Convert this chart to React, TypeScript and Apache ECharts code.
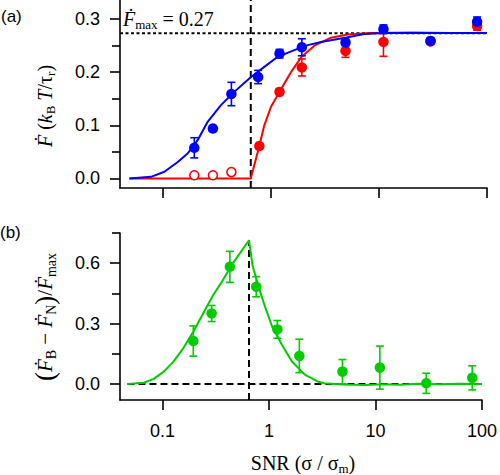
import React, { useEffect, useRef } from "react";
import * as echarts from "echarts";

// ---------- data ----------
const snr = [0.195, 0.29, 0.43, 0.76, 1.2, 1.93, 4.9, 11, 30, 81];

const blueValues = [0.0577, 0.094, 0.159, 0.191, 0.235, 0.247, 0.256, 0.281, 0.259, 0.295];
const blueErrors = [0.019, 0.005, 0.022, 0.0125, 0.008, 0.016, 0.006, 0.008, 0.005, 0.009];

const redOpenSnr = [0.195, 0.29, 0.43];
const redOpenValues = [0.006, 0.006, 0.012];

const redSnr = [0.78, 1.2, 1.93, 4.9, 11, 30, 81];
const redValues = [0.061, 0.163, 0.209, 0.24, 0.257, 0.258, 0.287];
const redErrors = [0.004, 0.005, 0.016, 0.012, 0.027, 0.005, 0.008];

const greenValues = [0.213, 0.35, 0.582, 0.483, 0.271, 0.139, 0.061, 0.081, 0.003, 0.03];
const greenErrors = [0.075, 0.04, 0.077, 0.05, 0.044, 0.083, 0.06, 0.107, 0.05, 0.06];

const blueCurveSnr = [0.0488, 0.0774, 0.103, 0.137, 0.169, 0.2095, 0.259, 0.344, 0.457, 0.653, 0.867, 1.153, 1.643, 2.19, 2.9, 5.0, 7.3, 11, 20, 40, 100];
const blueCurveValues = [0, 0.003, 0.0125, 0.031, 0.047, 0.072, 0.1066, 0.138, 0.163, 0.191, 0.21, 0.229, 0.2416, 0.251, 0.257, 0.2655, 0.2718, 0.274, 0.2745, 0.274, 0.274];

const redCurveSnr = [0.0488, 0.65, 0.78, 0.867, 1.0, 1.2, 1.53, 1.9, 2.52, 3.59, 5.13, 8.4, 20, 50, 100];
const redCurveValues = [0, 0, 0.061, 0.1, 0.135, 0.163, 0.2, 0.228, 0.25, 0.265, 0.271, 0.274, 0.2745, 0.274, 0.274];

const greenCurveSnr = [0.0471, 0.0671, 0.083, 0.103, 0.127, 0.157, 0.195, 0.241, 0.299, 0.37, 0.457, 0.65, 0.701, 0.808, 0.931, 1.074, 1.328, 1.643, 2.19, 2.9, 3.3, 5, 8, 12, 17, 25, 40, 60, 100];
const greenCurveValues = [0, 0.006, 0.025, 0.061, 0.111, 0.177, 0.259, 0.35, 0.441, 0.516, 0.598, 0.714, 0.59, 0.475, 0.375, 0.284, 0.193, 0.111, 0.045, 0.011, 0.003, -0.003, -0.006, -0.002, -0.004, 0.001, -0.002, 0.001, 0];

const fmax = 0.2736;
const threshold = 0.65;
const greenPeak = 0.714;

const xMin = 0.04;
const xMax = 100;
const topYMin = -0.018;
const topYMax = 0.336;
const botYMin = -0.08;
const botYMax = 0.75;

const xTickValues = [0.1, 1, 10, 100];
const xTickLabels = ["0.1", "1", "10", "100"];
const topMajor = [0, 0.1, 0.2, 0.3];
const topMinor = [0.05, 0.15, 0.25];
const botMajor = [0, 0.3, 0.6];
const botMinor = [0.15, 0.45, 0.75];

// ---------- styling ----------
const BLUE = "#0000ff";
const RED = "#ff0000";
const GREEN = "#00cc00";
const SANS = "'Liberation Sans', Arial, Helvetica, sans-serif";
const SERIF = "'Liberation Serif', 'DejaVu Serif', 'Times New Roman', serif";

const pairs = (xs: number[], ys: number[]) => xs.map((x, i) => [x, ys[i]]);

function curve(xs: number[], ys: number[], color: string, xi: number, yi: number, z = 2) {
  return {
    type: "line",
    xAxisIndex: xi,
    yAxisIndex: yi,
    data: pairs(xs, ys),
    showSymbol: false,
    symbol: "none",
    lineStyle: { color, width: 2 },
    z,
    silent: true,
  };
}

function refLine(data: number[][], dash: number[], xi: number, yi: number) {
  return {
    type: "line",
    xAxisIndex: xi,
    yAxisIndex: yi,
    data,
    showSymbol: false,
    symbol: "none",
    lineStyle: { color: "#000", width: 2, type: dash },
    z: 1,
    silent: true,
    clip: false,
  };
}

function errorBars(xs: number[], ys: number[], es: number[], color: string, xi: number, yi: number, z = 3) {
  return {
    type: "custom",
    xAxisIndex: xi,
    yAxisIndex: yi,
    data: xs.map((x, i) => [x, ys[i], es[i]]),
    encode: { x: 0, y: 1 },
    clip: false,
    silent: true,
    z,
    renderItem: (params: any, api: any) => {
      const x = api.value(0);
      const y = api.value(1);
      const e = api.value(2);
      const top = api.coord([x, y + e]);
      const bot = api.coord([x, y - e]);
      const hw = 4;
      const style = { stroke: color, lineWidth: 1.6 };
      return {
        type: "group",
        children: [
          { type: "line", shape: { x1: top[0], y1: top[1], x2: bot[0], y2: bot[1] }, style },
          { type: "line", shape: { x1: top[0] - hw, y1: top[1], x2: top[0] + hw, y2: top[1] }, style },
          { type: "line", shape: { x1: bot[0] - hw, y1: bot[1], x2: bot[0] + hw, y2: bot[1] }, style },
        ],
      };
    },
  };
}

function markers(xs: number[], ys: number[], color: string, xi: number, yi: number, open = false, z = 4) {
  return {
    type: "scatter",
    xAxisIndex: xi,
    yAxisIndex: yi,
    data: pairs(xs, ys),
    symbol: "circle",
    symbolSize: open ? 9 : 10.5,
    itemStyle: open
      ? { color: "#ffffff", borderColor: color, borderWidth: 1.6, opacity: 1 }
      : { color, borderColor: color, borderWidth: 0, opacity: 1 },
    z,
    silent: true,
  };
}

const axisLineStyle = { color: "#000", width: 1.6 };

function xAxisDef(gridIndex: number, showLabels: boolean) {
  return {
    type: "log",
    logBase: 10,
    gridIndex,
    min: xMin,
    max: xMax,
    position: "bottom",
    axisLine: { show: true, onZero: false, lineStyle: axisLineStyle },
    axisTick: { show: true, customValues: xTickValues, length: 10, inside: false, lineStyle: axisLineStyle },
    axisLabel: {
      show: showLabels,
      customValues: xTickValues,
      margin: 22,
      fontSize: 18,
      fontFamily: SANS,
      color: "#000",
      formatter: (v: number) => {
        const idx = xTickValues.findIndex((t) => Math.abs(Math.log10(t) - Math.log10(v)) < 1e-6);
        return idx >= 0 ? xTickLabels[idx] : "";
      },
    },
    splitLine: { show: false },
  };
}

function yAxisMajor(gridIndex: number, min: number, max: number, ticks: number[]) {
  return {
    type: "value",
    gridIndex,
    min,
    max,
    position: "left",
    axisLine: { show: true, onZero: false, lineStyle: axisLineStyle },
    axisTick: { show: true, customValues: ticks, length: 10, lineStyle: axisLineStyle },
    axisLabel: {
      show: true,
      customValues: ticks,
      margin: 20,
      fontSize: 18,
      fontFamily: SANS,
      color: "#000",
      formatter: (v: number) => v.toFixed(1),
    },
    splitLine: { show: false },
  };
}

function yAxisMinor(gridIndex: number, min: number, max: number, ticks: number[]) {
  return {
    type: "value",
    gridIndex,
    min,
    max,
    position: "left",
    axisLine: { show: false, onZero: false },
    axisTick: { show: true, customValues: ticks, length: 8, lineStyle: axisLineStyle },
    axisLabel: { show: false },
    splitLine: { show: false },
  };
}

const richBase = {
  F: { fontFamily: SERIF, fontStyle: "italic", fontSize: 20, lineHeight: 24, fill: "#000" },
  t: { fontFamily: SERIF, fontSize: 20, lineHeight: 24, fill: "#000" },
  P: { fontFamily: SERIF, fontSize: 24, lineHeight: 24, fill: "#000" },
  sub: { fontFamily: SERIF, fontSize: 13, lineHeight: 12, verticalAlign: "bottom", fill: "#000" },
};

const richLarge = {
  F: { fontFamily: SERIF, fontStyle: "italic", fontSize: 21, lineHeight: 26, fill: "#000" },
  t: { fontFamily: SERIF, fontSize: 21, lineHeight: 26, fill: "#000" },
  P: { fontFamily: SERIF, fontSize: 27, lineHeight: 26, fill: "#000" },
  sub: { fontFamily: SERIF, fontSize: 14, lineHeight: 13, verticalAlign: "bottom", fill: "#000" },
};

function App() {
  const ref = useRef<HTMLDivElement>(null);

  useEffect(() => {
    if (!ref.current) return;
    const chart = echarts.init(ref.current, null, { renderer: "svg" });

    const option: any = {
      animation: false,
      backgroundColor: "#ffffff",
      grid: [
        { left: 120, top: 0, width: 367, height: 188 },
        { left: 120, top: 233, width: 367, height: 167 },
      ],
      xAxis: [xAxisDef(0, false), xAxisDef(1, true)],
      yAxis: [
        yAxisMajor(0, topYMin, topYMax, topMajor),
        yAxisMinor(0, topYMin, topYMax, topMinor),
        yAxisMajor(1, botYMin, botYMax, botMajor),
        yAxisMinor(1, botYMin, botYMax, botMinor),
      ],
      series: [
        // reference lines
        refLine([[threshold, topYMin], [threshold, topYMax]], [7, 4], 0, 0),
        refLine([[xMin, fmax], [xMax, fmax]], [3, 2.5], 0, 0),
        refLine([[threshold, botYMin], [threshold, greenPeak]], [7, 4], 1, 2),
        refLine([[0.047, 0], [xMax, 0]], [7, 4], 1, 2),
        // fitted curves
        curve(redCurveSnr, redCurveValues, RED, 0, 0, 2),
        curve(blueCurveSnr, blueCurveValues, BLUE, 0, 0, 2),
        curve(greenCurveSnr, greenCurveValues, GREEN, 1, 2, 2),
        // error bars
        errorBars(redSnr, redValues, redErrors, RED, 0, 0, 3),
        errorBars(snr, blueValues, blueErrors, BLUE, 0, 0, 3),
        errorBars(snr, greenValues, greenErrors, GREEN, 1, 2, 3),
        // markers
        markers(redOpenSnr, redOpenValues, RED, 0, 0, true, 4),
        markers(redSnr, redValues, RED, 0, 0, false, 4),
        markers(snr, blueValues, BLUE, 0, 0, false, 5),
        markers(snr, greenValues, GREEN, 1, 2, false, 4),
      ],
      graphic: [
        {
          type: "text",
          x: 1,
          y: 16,
          style: { text: "(a)", fontFamily: SANS, fontSize: 17, fill: "#000", align: "left", verticalAlign: "middle" },
        },
        {
          type: "text",
          x: 0,
          y: 232,
          style: { text: "(b)", fontFamily: SANS, fontSize: 17, fill: "#000", align: "left", verticalAlign: "middle" },
        },
        {
          type: "text",
          x: 123,
          y: 19,
          style: {
            text: "{F|Ḟ}{sub|max}{t| = 0.27}",
            rich: richBase,
            fontFamily: SERIF,
            fontSize: 20,
            align: "left",
            verticalAlign: "middle",
          },
        },
        {
          type: "text",
          x: 45,
          y: 106,
          rotation: Math.PI / 2,
          style: {
            text: "{F|Ḟ}{t| (}{F|k}{sub|B}{F| T}{t|/τ}{sub|r}{t|)}",
            rich: richBase,
            fontFamily: SERIF,
            fontSize: 20,
            align: "center",
            verticalAlign: "middle",
          },
        },
        {
          type: "text",
          x: 45,
          y: 317,
          rotation: Math.PI / 2,
          style: {
            text: "{P|(}{F|Ḟ}{sub|B}{t| − }{F|Ḟ}{sub|N}{P|)}{t|/}{F|Ḟ}{sub|max}",
            rich: richLarge,
            fontFamily: SERIF,
            fontSize: 21,
            align: "center",
            verticalAlign: "middle",
          },
        },
        {
          type: "text",
          x: 303,
          y: 463,
          style: {
            text: "{t|SNR (σ / σ}{sub|m}{t|)}",
            rich: richBase,
            fontFamily: SERIF,
            fontSize: 20,
            align: "center",
            verticalAlign: "middle",
          },
        },
      ],
    };

    chart.setOption(option);
    return () => {
      chart.dispose();
    };
  }, []);

  return (
    <div
      ref={ref}
      style={{ position: "absolute", left: 0, top: 0, width: 500, height: 475, background: "#fff" }}
    />
  );
}

export default App;
